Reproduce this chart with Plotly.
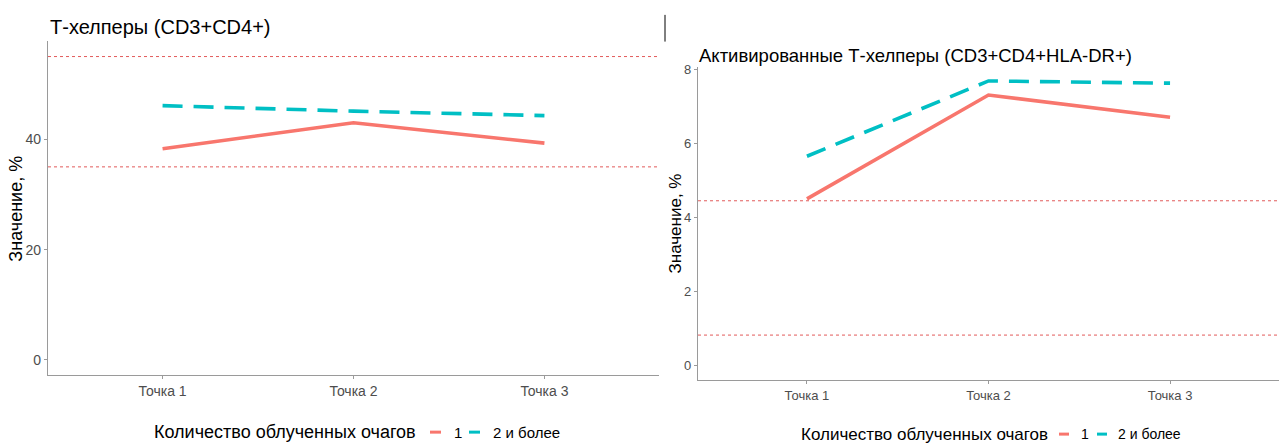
import plotly.graph_objects as go

# ---------------- data ----------------
categories = ["Точка 1", "Точка 2", "Точка 3"]
groups = ["1", "2 и более"]

left_title = "Т-хелперы (CD3+CD4+)"
left_g1 = [38.3, 43.0, 39.3]
left_g2 = [46.1, 45.1, 44.3]
left_refs = [35, 55]
left_ticks = [0, 20, 40]

right_title = "Активированные Т-хелперы (CD3+CD4+HLA-DR+)"
right_g1 = [4.5, 7.3, 6.7]
right_g2 = [5.65, 7.68, 7.62]
right_refs = [0.83, 4.45]
right_ticks = [0, 2, 4, 6, 8]

y_label = "Значение, %"
legend_title = "Количество облученных очагов"

# ---------------- style ----------------
W, H = 1283, 444
RED = "#F8766D"
CYAN = "#00BFC4"
REF = "#E25A5A"
AXIS = "#9A9A9A"
TICKTXT = "#4D4D4D"
FONT = "Liberation Sans"


def px(x):
    return x / W


def py(y):
    return (H - y) / H


def yrange(*arrs):
    vals = [0]
    for a in arrs:
        vals += list(a)
    lo, hi = min(vals), max(vals)
    d = (hi - lo) * 0.05
    return [lo - d, hi + d]


fig = go.Figure()

panels = [
    dict(xa="x", ya="y", g1=left_g1, g2=left_g2, refs=left_refs),
    dict(xa="x2", ya="y2", g1=right_g1, g2=right_g2, refs=right_refs),
]
for p in panels:
    fig.add_trace(go.Scatter(x=categories, y=p["g1"], mode="lines", name=groups[0],
                             xaxis=p["xa"], yaxis=p["ya"], showlegend=False,
                             line=dict(color=RED, width=3.6)))
    fig.add_trace(go.Scatter(x=categories, y=p["g2"], mode="lines", name=groups[1],
                             xaxis=p["xa"], yaxis=p["ya"], showlegend=False,
                             line=dict(color=CYAN, width=3.6, dash="20px,11px")))
    for r in p["refs"]:
        fig.add_shape(type="line", xref=p["xa"] + " domain", x0=0, x1=1,
                      yref=p["ya"], y0=r, y1=r,
                      line=dict(color=REF, width=1, dash="dot"), layer="below")

axis_common = dict(showline=True, linecolor=AXIS, linewidth=1.4, showgrid=False,
                   zeroline=False, ticks="outside", ticklen=3, tickcolor=AXIS,
                   tickwidth=1.2, mirror=False)

fig.update_layout(
    width=W, height=H,
    margin=dict(l=0, r=0, t=0, b=0),
    paper_bgcolor="white", plot_bgcolor="white",
    font=dict(family=FONT, color="black"),
    xaxis=dict(domain=[px(48), px(659)], anchor="y", type="category",
               range=[-0.6, 2.6], tickfont=dict(size=14, color=TICKTXT), **axis_common),
    yaxis=dict(domain=[py(374.3), py(36.8)], anchor="x",
               range=yrange(left_g1, left_g2, left_refs), tickvals=left_ticks,
               tickfont=dict(size=14, color=TICKTXT), **axis_common),
    xaxis2=dict(domain=[px(698), px(1279)], anchor="y2", type="category",
                range=[-0.6, 2.6], tickfont=dict(size=13, color=TICKTXT), **axis_common),
    yaxis2=dict(domain=[py(379.4), py(62.4)], anchor="x2",
                range=yrange(right_g1, right_g2, right_refs), tickvals=right_ticks,
                tickfont=dict(size=13, color=TICKTXT), **axis_common),
)

ann = []
# titles
ann.append(dict(text=left_title, x=px(48), y=py(22), xref="paper", yref="paper",
                xanchor="left", yanchor="middle", showarrow=False,
                font=dict(size=20, color="black", family=FONT)))
ann.append(dict(text=right_title, x=px(697), y=py(51), xref="paper", yref="paper",
                xanchor="left", yanchor="middle", showarrow=False,
                font=dict(size=18.5, color="black", family=FONT)))
# y-axis titles
ann.append(dict(text=y_label, x=px(16), y=py(206), xref="paper", yref="paper",
                xanchor="center", yanchor="middle", textangle=-90, showarrow=False,
                font=dict(size=18, color="black", family=FONT)))
ann.append(dict(text=y_label, x=px(676), y=py(221), xref="paper", yref="paper",
                xanchor="center", yanchor="middle", textangle=-90, showarrow=False,
                font=dict(size=17, color="black", family=FONT)))

# manual legends (ggplot style, bottom)
legends = [
    dict(title_x=152, y=432, tsize=18, lsize=15, keys=[(430, 441), (469, 480)], labels=[452, 491]),
    dict(title_x=799, y=434, tsize=17, lsize=14, keys=[(1059, 1069), (1097, 1107)], labels=[1079, 1116]),
]
colors = [RED, CYAN]
for lg in legends:
    ann.append(dict(text=legend_title, x=px(lg["title_x"]), y=py(lg["y"]),
                    xref="paper", yref="paper", xanchor="left", yanchor="middle",
                    showarrow=False, font=dict(size=lg["tsize"], color="black", family=FONT)))
    for i, g in enumerate(groups):
        k0, k1 = lg["keys"][i]
        fig.add_shape(type="line", xref="paper", yref="paper",
                      x0=px(k0), x1=px(k1), y0=py(lg["y"]), y1=py(lg["y"]),
                      line=dict(color=colors[i], width=3))
        ann.append(dict(text=g, x=px(lg["labels"][i]), y=py(lg["y"]),
                        xref="paper", yref="paper", xanchor="left", yanchor="middle",
                        showarrow=False, font=dict(size=lg["lsize"], color="black", family=FONT)))

# separator line between the two pasted panels
fig.add_shape(type="line", xref="paper", yref="paper", x0=px(665), x1=px(665),
              y0=py(10), y1=py(37), line=dict(color="black", width=1))

fig.update_layout(annotations=ann)
fig.write_html("out.html")
